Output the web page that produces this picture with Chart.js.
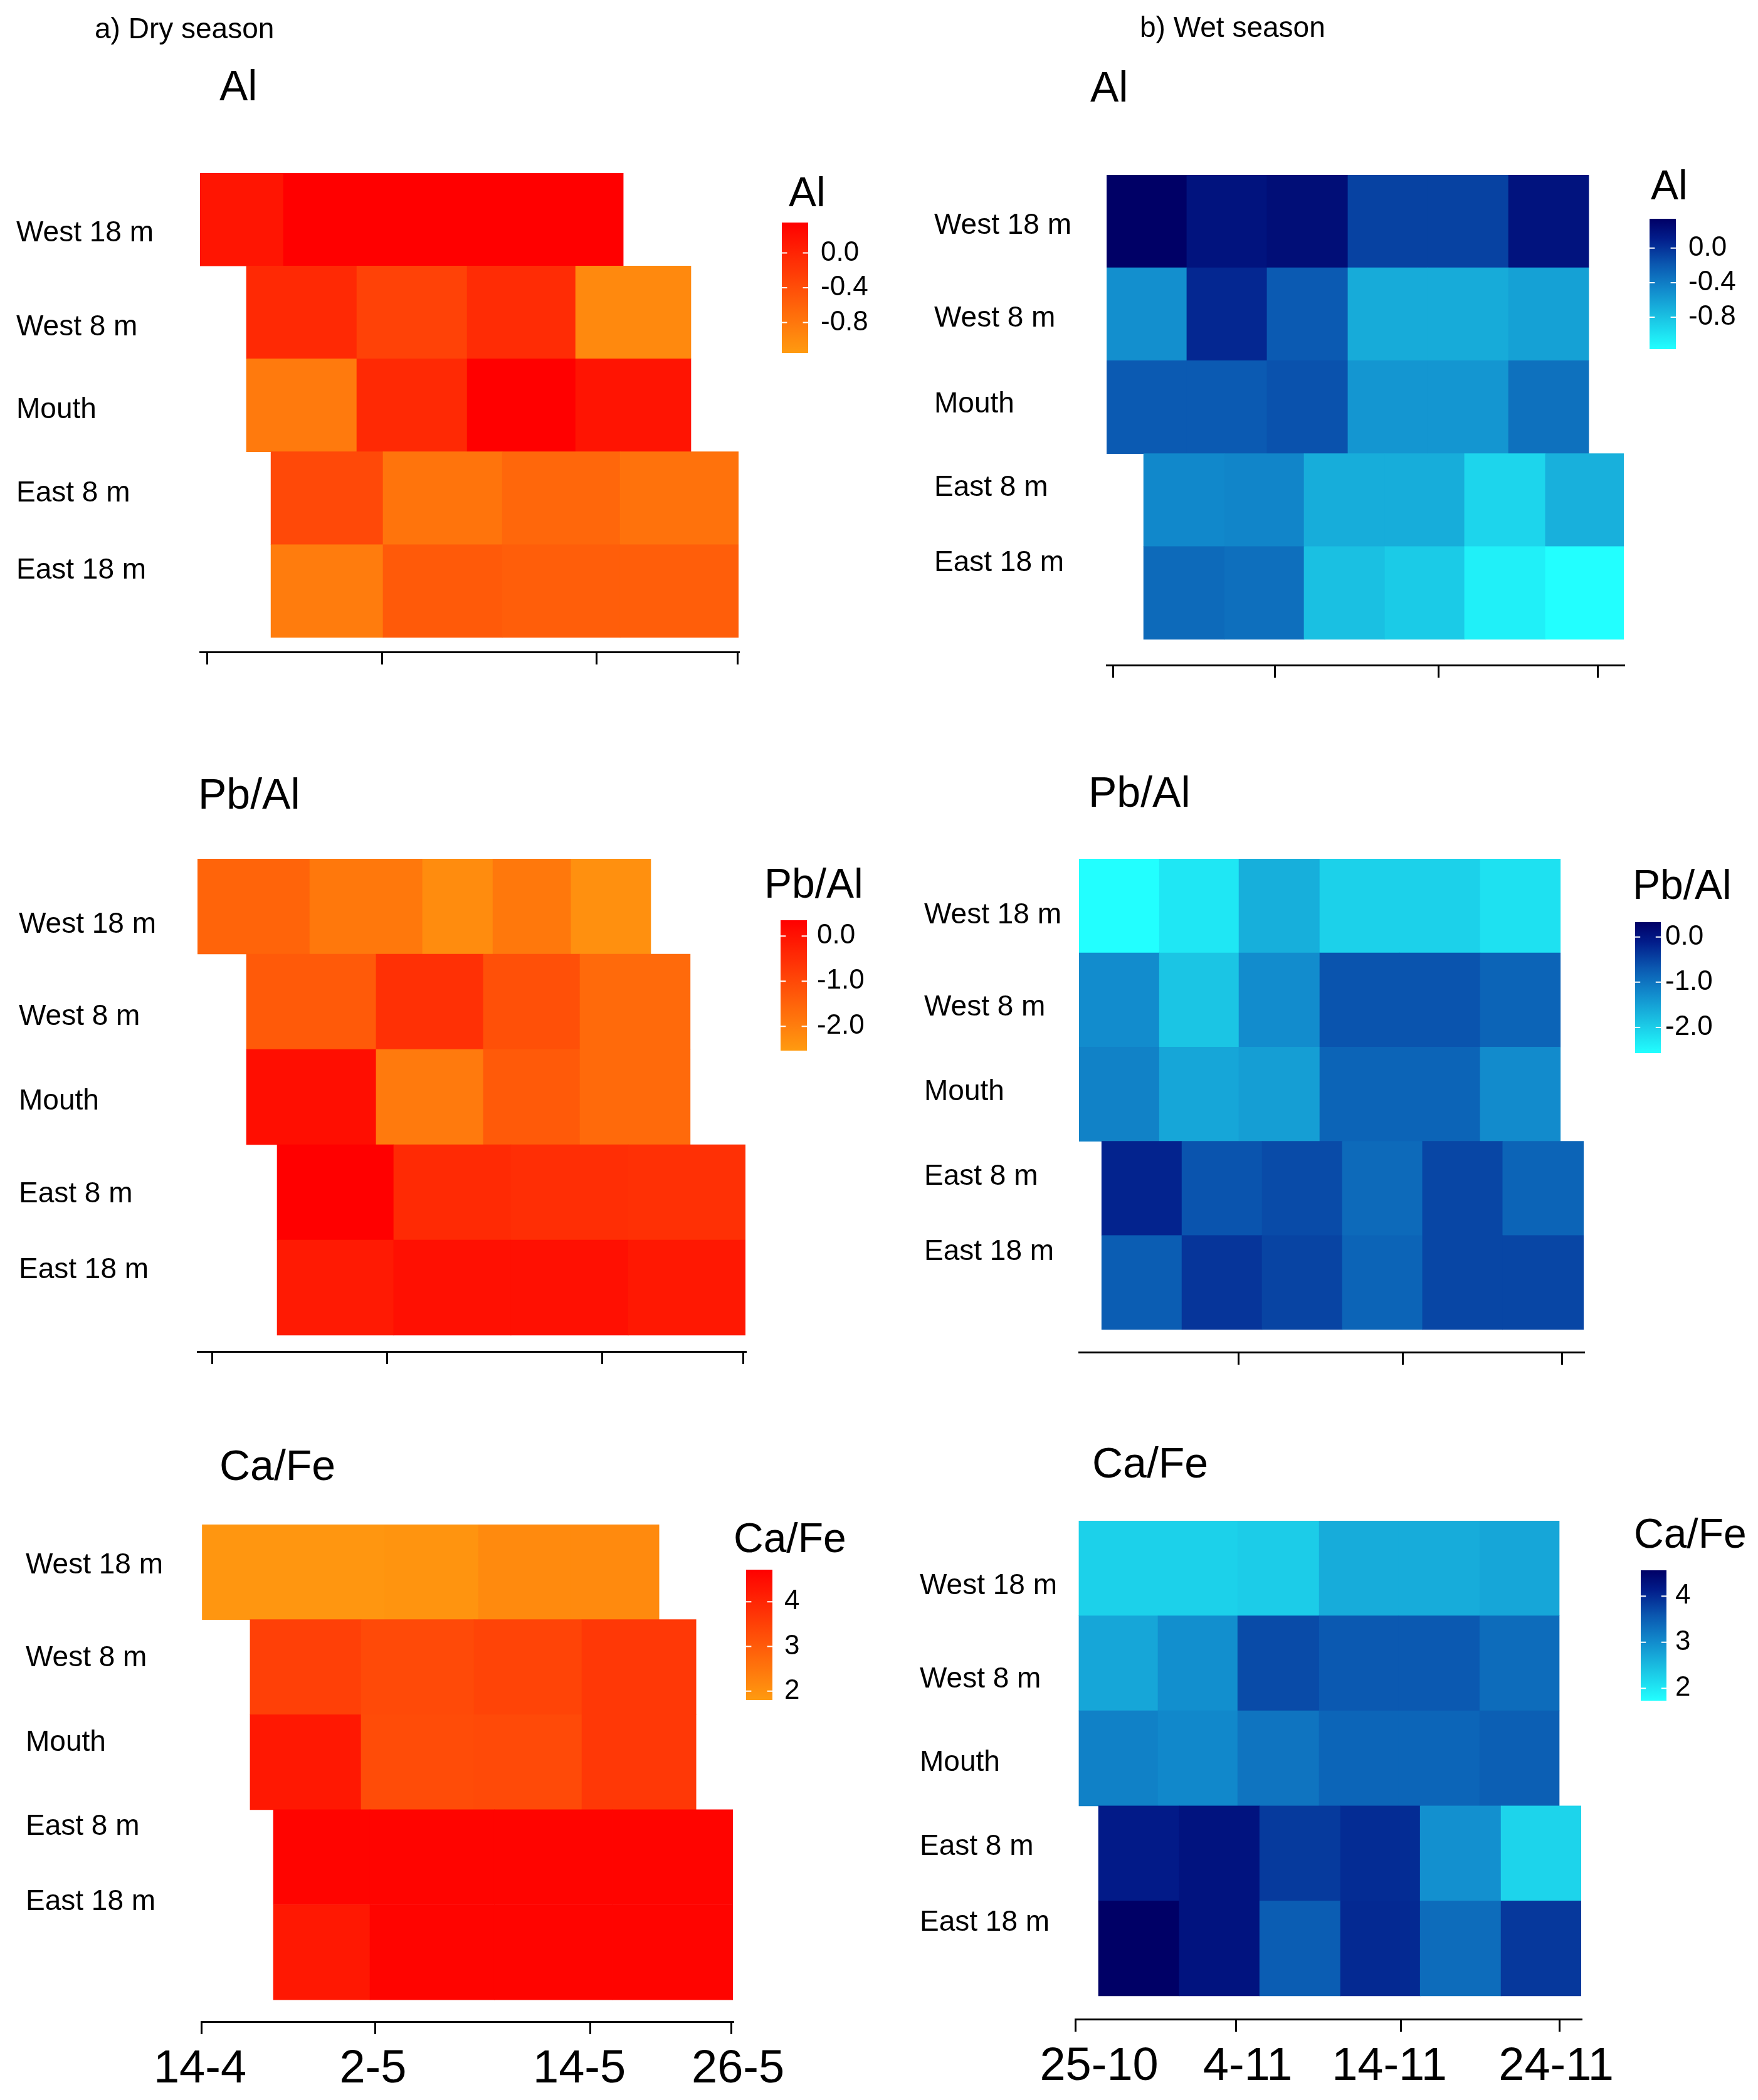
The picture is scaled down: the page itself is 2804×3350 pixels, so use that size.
<!DOCTYPE html>
<html>
<head>
<meta charset="utf-8">
<script src="https://cdn.jsdelivr.net/npm/chart.js@4.4.1/dist/chart.umd.min.js"></script>
<style>
  html, body { margin: 0; padding: 0; background: #fff; }
  #page { position: relative; width: 2804px; height: 3350px; overflow: hidden; }
  canvas { position: absolute; }
</style>
</head>
<body>
<div id="page"></div>
<script>
// ===== site / date labels =====
const sites = ["West 18 m", "West 8 m", "Mouth", "East 8 m", "East 18 m"];
const dryTickLabels = ["14-4", "2-5", "14-5", "26-5"];
const wetTickLabels = ["25-10", "4-11", "14-11", "24-11"];

// ===== dry season (x in days after 14-4, as drawn) =====
const dryAlTicks = [0, 13.88, 30.84, 42];
const dryAlEdges = [
  [-0.55, 6.05, 32.93],
  [3.12, 11.85, 20.58, 29.16, 38.28],
  [3.12, 11.85, 20.58, 29.16, 38.28],
  [5.06, 13.93, 23.36, 32.68, 42.05],
  [5.06, 13.93, 23.36, 32.68, 42.05]
];
const dryAlValues = [
  [0.15, 0.35],
  [-0.05, -0.29, -0.08, -0.98],
  [-0.83, -0.05, 0.35, 0.16],
  [-0.36, -0.77, -0.65, -0.75],
  [-0.85, -0.52, -0.56, -0.56]
];
const dryAlRange = [-1.15, 0.35];
const dryAlBreaks = [0, -0.4, -0.8];

const dryPbTicks = [0, 13.83, 30.84, 42];
const dryPbEdges = [
  [-1.19, 7.69, 16.61, 22.17, 28.36, 34.66],
  [2.68, 12.94, 21.42, 29.06, 37.78],
  [2.68, 12.94, 21.42, 29.06, 37.78],
  [5.11, 14.33, 23.6, 32.88, 42.15],
  [5.11, 14.33, 23.6, 32.88, 42.15]
];
const dryPbValues = [
  [-1.51, -1.89, -2.26, -1.89, -2.33],
  [-1.33, -0.55, -1.14, -1.63],
  [0.09, -1.92, -1.33, -1.63],
  [0.35, -0.43, -0.51, -0.55],
  [-0.14, 0.05, 0.05, -0.10]
];
const dryPbRange = [-2.54, 0.35];
const dryPbBreaks = [0, -1, -2];

const dryCaTicks = [0, 13.8, 30.83, 42];
const dryCaLabelPos = [-0.1, 13.6, 29.94, 42.5];
const dryCaEdges = [
  [0, 14.55, 21.95, 29.25, 36.25],
  [3.87, 12.66, 21.6, 30.14, 39.18],
  [3.87, 12.66, 21.6, 30.14, 39.18],
  [5.71, 13.36, 23.2, 32.6, 42.1],
  [5.71, 13.36, 23.2, 32.6, 42.1]
];
const dryCaValues = [
  [1.89, 1.93, 2.12, 2.12],
  [3.51, 3.33, 3.44, 3.67],
  [4.27, 3.29, 3.33, 3.67],
  [4.64, 4.64, 4.64, 4.64],
  [4.27, 4.64, 4.64, 4.64]
];
const dryCaRange = [1.8, 4.72];
const dryCaBreaks = [4, 3, 2];

// ===== wet season (x in days after 25-10, as drawn) =====
const wetAlTicks = [0, 10.0, 20.12, 30];
const wetAlEdges = [
  [-0.39, 4.57, 9.53, 14.53, 19.46, 24.46, 29.42],
  [-0.39, 4.57, 9.53, 14.53, 19.46, 24.46, 29.42],
  [-0.39, 4.57, 9.53, 14.53, 19.46, 24.46, 29.42],
  [1.9, 6.9, 11.82, 16.82, 21.74, 26.74, 31.59],
  [1.9, 6.9, 11.82, 16.82, 21.74, 26.74, 31.59]
];
const wetAlValues = [
  [0.34, 0.19, 0.23, -0.08, -0.08, 0.19],
  [-0.51, 0.06, -0.20, -0.67, -0.67, -0.61],
  [-0.20, -0.20, -0.16, -0.55, -0.55, -0.33],
  [-0.47, -0.45, -0.68, -0.68, -0.92, -0.70],
  [-0.29, -0.32, -0.79, -0.86, -1.08, -1.17]
];
const wetAlRange = [-1.17, 0.34];
const wetAlBreaks = [0, -0.4, -0.8];

const wetPbTicks = [10.0, 20.17, 30.0];
const wetPbEdges = [
  [0.17, 5.13, 10.04, 15.03, 19.94, 24.93, 29.88],
  [0.17, 5.13, 10.04, 15.03, 19.94, 24.93, 29.88],
  [0.17, 5.13, 10.04, 15.03, 19.94, 24.93, 29.88],
  [1.57, 6.52, 11.47, 16.42, 21.37, 26.32, 31.31],
  [1.57, 6.52, 11.47, 16.42, 21.37, 26.32, 31.31]
];
const wetPbValues = [
  [-2.57, -2.29, -1.65, -2.04, -2.04, -2.22],
  [-1.27, -1.90, -1.27, -0.65, -0.65, -0.82],
  [-1.15, -1.56, -1.47, -0.81, -0.81, -1.25],
  [-0.17, -0.65, -0.56, -0.88, -0.51, -0.81],
  [-0.74, -0.35, -0.49, -0.81, -0.51, -0.51]
];
const wetPbRange = [-2.57, 0.33];
const wetPbBreaks = [0, -1, -2];

const wetCaTicks = [0, 9.95, 20.17, 30];
const wetCaLabelPos = [1.48, 10.69, 19.47, 29.81];
const wetCaEdges = [
  [0.23, 5.13, 10.07, 15.12, 20.05, 25.07, 30.0],
  [0.23, 5.13, 10.07, 15.12, 20.05, 25.07, 30.0],
  [0.23, 5.13, 10.07, 15.12, 20.05, 25.07, 30.0],
  [1.44, 6.45, 11.43, 16.44, 21.38, 26.39, 31.36],
  [1.44, 6.45, 11.43, 16.44, 21.38, 26.39, 31.36]
];
const wetCaValues = [
  [2.25, 2.25, 2.30, 2.65, 2.65, 2.72],
  [2.72, 2.97, 3.69, 3.56, 3.56, 3.36],
  [3.12, 3.05, 3.27, 3.43, 3.43, 3.50],
  [4.16, 4.27, 3.85, 3.98, 2.96, 2.21],
  [4.56, 4.27, 3.52, 4.01, 3.36, 3.87]
];
const wetCaRange = [1.73, 4.56];
const wetCaBreaks = [4, 3, 2];

// ===== colour scales (0 = low end, 1 = high end) =====
const FONT = '"Liberation Sans", Arial, Helvetica, sans-serif';
const redStops = [[0, [255, 155, 16]], [1, [255, 0, 0]]];
const blueStops = [
  [0, [34, 255, 255]], [0.25, [26, 192, 226]], [0.45, [18, 140, 205]],
  [0.64, [11, 91, 178]], [0.85, [2, 28, 138]], [1, [0, 0, 102]]
];

function rampColor(stops, f) {
  f = Math.max(0, Math.min(1, f));
  for (let i = 1; i < stops.length; i++) {
    if (f <= stops[i][0]) {
      const [f0, c0] = stops[i - 1], [f1, c1] = stops[i];
      const t = (f - f0) / (f1 - f0);
      const c = c0.map((v, k) => Math.round(v + (c1[k] - v) * t));
      return `rgb(${c[0]},${c[1]},${c[2]})`;
    }
  }
  const c = stops[stops.length - 1][1];
  return `rgb(${c[0]},${c[1]},${c[2]})`;
}

const page = document.getElementById("page");

function makePanel(p) {
  const cv = document.createElement("canvas");
  cv.width = p.w; cv.height = p.h;
  cv.style.left = p.left + "px"; cv.style.top = p.top + "px";
  cv.style.width = p.w + "px"; cv.style.height = p.h + "px";
  page.appendChild(cv);

  const stops = p.scheme === "red" ? redStops : blueStops;
  const colorOf = v => rampColor(stops, (v - p.range[0]) / (p.range[1] - p.range[0]));

  // one floating bar per cell
  const pts = [], cols = [];
  p.edges.forEach((row, r) => {
    for (let i = 0; i < row.length - 1; i++) {
      pts.push({ y: r, x: [row[i], row[i + 1]] });
      cols.push(colorOf(p.values[r][i]));
    }
  });

  // titles + colour bar legend
  const decor = {
    id: "decor",
    afterDraw(chart) {
      const ctx = chart.ctx;
      ctx.save();
      ctx.fillStyle = "#000";
      ctx.textBaseline = "middle";
      ctx.textAlign = "left";
      if (p.header) {
        ctx.font = `46px ${FONT}`;
        ctx.fillText(p.header, p.headerX, p.headerY);
      }
      ctx.font = `68px ${FONT}`;
      ctx.fillText(p.title, p.titleX, p.titleY);
      ctx.font = `66px ${FONT}`;
      ctx.fillText(p.title, p.legTitleX, p.legTitleY);

      const L = p.bar[0], T = p.bar[1], W = p.bar[2], H = p.bar[3];
      const g = ctx.createLinearGradient(0, T + H, 0, T);
      for (let k = 0; k <= 20; k++) {
        g.addColorStop(k / 20, colorOf(p.range[0] + (k / 20) * (p.range[1] - p.range[0])));
      }
      ctx.fillStyle = g;
      ctx.fillRect(L, T, W, H);

      ctx.font = `44px ${FONT}`;
      ctx.strokeStyle = "#fff";
      ctx.lineWidth = 2;
      p.breaks.forEach((b, i) => {
        const y = T + H - (b - p.range[0]) / (p.range[1] - p.range[0]) * H;
        ctx.beginPath();
        ctx.moveTo(L, y); ctx.lineTo(L + W / 5, y);
        ctx.moveTo(L + W - W / 5, y); ctx.lineTo(L + W, y);
        ctx.stroke();
        ctx.fillStyle = "#000";
        ctx.fillText(p.breakLabels[i], p.legLabelX, y);
      });
      ctx.restore();
    }
  };

  const yMax = 4.5 + p.gap;
  const labH = p.labelPos ? 95 : 0;

  new Chart(cv, {
    type: "bar",
    data: {
      datasets: [{
        data: pts,
        backgroundColor: cols,
        borderWidth: 0,
        categoryPercentage: 1,
        barPercentage: 1
      }]
    },
    options: {
      indexAxis: "y",
      responsive: false,
      animation: false,
      devicePixelRatio: 1,
      layout: { padding: { left: p.labelX, right: p.w - p.chartRight, top: p.chartTop, bottom: p.h - p.axisY - 30 - labH } },
      plugins: { legend: { display: false }, tooltip: { enabled: false }, title: { display: false } },
      scales: {
        // date axis: line + tick marks
        x: {
          type: "linear",
          weight: 0,
          min: p.xMin, max: p.xMax,
          afterBuildTicks: s => { s.ticks = p.ticks.map(v => ({ value: v })); },
          afterFit: s => { s.height = 30; },
          ticks: { display: false },
          grid: { display: true, drawOnChartArea: false, drawTicks: true, tickLength: 20, tickWidth: 3, tickColor: "#000", color: "#000", lineWidth: 3 },
          border: { display: true, color: "#000", width: 3 }
        },
        // date labels, placed where the original put them
        xl: {
          type: "linear",
          axis: "x",
          position: "bottom",
          weight: 1,
          display: !!p.labelPos,
          min: p.xMin, max: p.xMax,
          afterBuildTicks: s => { s.ticks = (p.labelPos || []).map(v => ({ value: v })); },
          afterFit: s => { s.height = labH; s.paddingLeft = 0; s.paddingRight = 0; },
          ticks: {
            autoSkip: false, maxRotation: 0,
            color: "#000", padding: 2,
            font: { size: 74, family: FONT },
            callback: (v, i) => p.tickLabels[i]
          },
          grid: { display: false, drawTicks: false },
          border: { display: false }
        },
        // row axis used by the bars
        y: {
          type: "linear",
          display: false,
          reverse: true,
          offset: false,
          min: -0.5, max: yMax,
          afterBuildTicks: s => { s.ticks = sites.map((_, i) => ({ value: i })); }
        },
        // site labels (same range)
        yl: {
          type: "linear",
          axis: "y",
          position: "left",
          reverse: true,
          offset: false,
          min: -0.5, max: yMax,
          afterBuildTicks: s => { s.ticks = p.rowLabelPos.map(v => ({ value: v })); },
          afterFit: s => { s.width = p.chartLeft - p.labelX; s.paddingTop = 0; s.paddingBottom = 0; },
          ticks: {
            autoSkip: false, crossAlign: "far",
            color: "#000",
            font: { size: 46, family: FONT },
            callback: (v, i) => sites[i]
          },
          grid: { display: false },
          border: { display: false }
        }
      }
    },
    plugins: [decor]
  });
}

// ===== panel layout =====
const panels = [
  { left: 0, top: 0, w: 1402, h: 1100, scheme: "red",
    header: "a) Dry season", headerX: 151, headerY: 48,
    title: "Al", titleX: 350, titleY: 141,
    edges: dryAlEdges, values: dryAlValues, range: dryAlRange,
    breaks: dryAlBreaks, breakLabels: ["0.0", "-0.4", "-0.8"],
    ticks: dryAlTicks, tickLabels: dryTickLabels,
    xMin: -0.55, xMax: 42.05, gap: 0.155, rowLabelPos: [0.15, 1.16, 2.05, 2.95, 3.78],
    labelX: 26, chartLeft: 319, chartRight: 1178, chartTop: 276, axisY: 1040,
    legTitleX: 1258, legTitleY: 311, bar: [1247, 355, 42, 208], legLabelX: 1309 },
  { left: 1402, top: 0, w: 1402, h: 1100, scheme: "blue",
    header: "b) Wet season", headerX: 416, headerY: 46,
    title: "Al", titleX: 337, titleY: 143,
    edges: wetAlEdges, values: wetAlValues, range: wetAlRange,
    breaks: wetAlBreaks, breakLabels: ["0.0", "-0.4", "-0.8"],
    ticks: wetAlTicks, tickLabels: wetTickLabels,
    xMin: -0.39, xMax: 31.59, gap: 0.277, rowLabelPos: [0.05, 1.05, 1.97, 2.87, 3.68],
    labelX: 88, chartLeft: 363, chartRight: 1188, chartTop: 279, axisY: 1061,
    legTitleX: 1231, legTitleY: 300, bar: [1229, 349, 42, 208], legLabelX: 1291 },
  { left: 0, top: 1100, w: 1402, h: 1100, scheme: "red",
    title: "Pb/Al", titleX: 316, titleY: 171,
    edges: dryPbEdges, values: dryPbValues, range: dryPbRange,
    breaks: dryPbBreaks, breakLabels: ["0.0", "-1.0", "-2.0"],
    ticks: dryPbTicks, tickLabels: dryTickLabels,
    xMin: -1.19, xMax: 42.15, gap: 0.171, rowLabelPos: [0.19, 1.16, 2.05, 3.02, 3.82],
    labelX: 30, chartLeft: 315, chartRight: 1189, chartTop: 270, axisY: 1056,
    legTitleX: 1219, legTitleY: 314, bar: [1245, 368, 42, 208], legLabelX: 1303 },
  { left: 1402, top: 1100, w: 1402, h: 1100, scheme: "blue",
    title: "Pb/Al", titleX: 334, titleY: 168,
    edges: wetPbEdges, values: wetPbValues, range: wetPbRange,
    breaks: wetPbBreaks, breakLabels: ["0.0", "-1.0", "-2.0"],
    ticks: wetPbTicks, tickLabels: wetTickLabels.slice(1),
    xMin: 0.17, xMax: 31.32, gap: 0.24, rowLabelPos: [0.10, 1.08, 1.98, 2.88, 3.68],
    labelX: 72, chartLeft: 319, chartRight: 1124, chartTop: 270, axisY: 1057,
    legTitleX: 1202, legTitleY: 316, bar: [1206, 371, 41, 209], legLabelX: 1254 },
  { left: 0, top: 2200, w: 1402, h: 1150, scheme: "red",
    title: "Ca/Fe", titleX: 350, titleY: 142,
    edges: dryCaEdges, values: dryCaValues, range: dryCaRange,
    breaks: dryCaBreaks, breakLabels: ["4", "3", "2"],
    ticks: dryCaTicks, tickLabels: dryTickLabels, labelPos: dryCaLabelPos,
    xMin: 0, xMax: 42.1, gap: 0.23, rowLabelPos: [-0.07, 0.905, 1.8, 2.68, 3.47],
    labelX: 41, chartLeft: 321, chartRight: 1169, chartTop: 232, axisY: 1025,
    legTitleX: 1170, legTitleY: 258, bar: [1190, 304, 42, 208], legLabelX: 1251 },
  { left: 1402, top: 2200, w: 1402, h: 1150, scheme: "blue",
    title: "Ca/Fe", titleX: 340, titleY: 138,
    edges: wetCaEdges, values: wetCaValues, range: wetCaRange,
    breaks: wetCaBreaks, breakLabels: ["4", "3", "2"],
    ticks: wetCaTicks, tickLabels: wetTickLabels, labelPos: wetCaLabelPos,
    xMin: 0, xMax: 31.36, gap: 0.244, rowLabelPos: [0.19, 1.17, 2.05, 2.93, 3.73],
    labelX: 65, chartLeft: 313, chartRight: 1120, chartTop: 226, axisY: 1021,
    legTitleX: 1204, legTitleY: 251, bar: [1215, 305, 41, 208], legLabelX: 1270 }
];

panels.forEach(makePanel);
</script>
</body>
</html>
